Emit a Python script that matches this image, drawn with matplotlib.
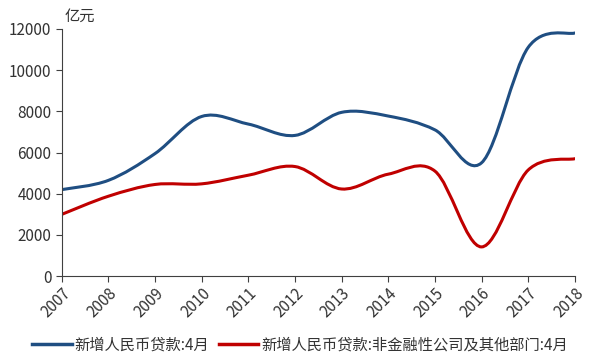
import matplotlib
matplotlib.use("Agg")
import matplotlib.pyplot as plt
from matplotlib.path import Path
from matplotlib.patches import PathPatch
from matplotlib.lines import Line2D
import numpy as np

plt.rcParams['font.family'] = ['Noto Sans CJK SC', 'DejaVu Sans']

years = ['2007', '2008', '2009', '2010', '2011', '2012', '2013', '2014',
         '2015', '2016', '2017', '2018']
total_loans = [4200, 4650, 5950, 7750, 7380, 6830, 7950, 7770, 7100, 5500, 11100, 11800]
corp_loans = [3000, 3880, 4450, 4480, 4900, 5320, 4230, 4950, 5100, 1420, 5150, 5700]

name_total = '新增人民币贷款:4月'
name_corp = '新增人民币贷款:非金融性公司及其他部门:4月'


def smooth_path(x, y, t=1 / 6):
    # bezier curve through the points, like excel's smoothed line
    x = np.asarray(x, float)
    y = np.asarray(y, float)
    verts = [(x[0], y[0])]
    codes = [Path.MOVETO]
    n = len(x)
    for i in range(n - 1):
        p0 = i - 1 if i > 0 else i
        p3 = i + 2 if i + 2 < n else i + 1
        c1 = (x[i] + (x[i + 1] - x[p0]) * t, y[i] + (y[i + 1] - y[p0]) * t)
        c2 = (x[i + 1] - (x[p3] - x[i]) * t, y[i + 1] - (y[p3] - y[i]) * t)
        verts += [c1, c2, (x[i + 1], y[i + 1])]
        codes += [Path.CURVE4] * 3
    return Path(verts, codes)


fig = plt.figure(figsize=(6, 3.61), dpi=100)
ax = fig.add_axes([0.103, 0.235, 0.855, 0.685])

xs = np.arange(len(years))
blue = '#1f4e82'
red = '#c00000'
txt = '#333333'
for vals, col in [(total_loans, blue), (corp_loans, red)]:
    ax.add_patch(PathPatch(smooth_path(xs, vals), facecolor='none',
                           edgecolor=col, lw=2.2, capstyle='round'))

ax.set_xlim(0, len(years) - 1)
ax.set_ylim(0, 12000)
ax.set_yticks(range(0, 12001, 2000))
ax.set_xticks(xs)
ax.set_xticklabels(years, rotation=45, ha='right', rotation_mode='anchor')
ax.tick_params(axis='both', labelsize=11, direction='out', length=4,
               color='#404040', labelcolor=txt)
ax.tick_params(axis='x', pad=2)
for s in ['top', 'right']:
    ax.spines[s].set_visible(False)
for s in ['left', 'bottom']:
    ax.spines[s].set_color('#404040')

fig.text(0.108, 0.955, '亿元', fontsize=11, ha='left', va='center', color=txt)

handles = [Line2D([], [], color=blue, lw=2.5), Line2D([], [], color=red, lw=2.5)]
fig.legend(handles, [name_total, name_corp], loc='center', bbox_to_anchor=(0.5, 0.045),
           ncol=2, frameon=False, fontsize=11, handlelength=2.6, handletextpad=0.2,
           columnspacing=0.6, labelcolor=txt)

fig.savefig('out.png', dpi=100)
